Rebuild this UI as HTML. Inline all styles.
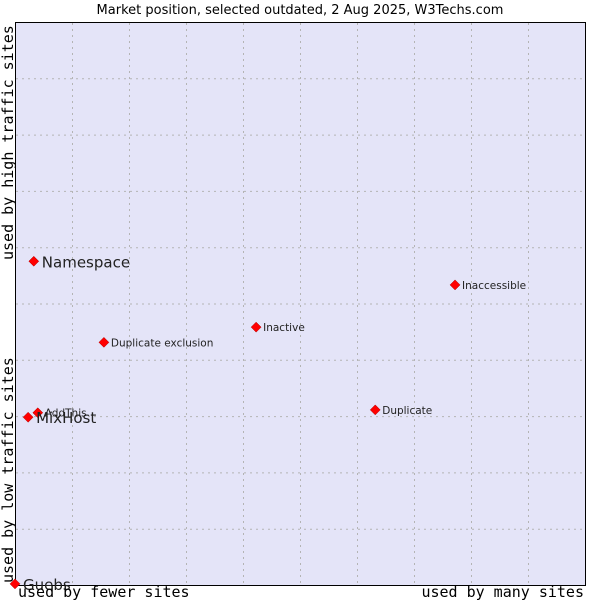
<!DOCTYPE html>
<html><head><meta charset="utf-8"><style>body{margin:0;background:#fff}svg{display:block}</style></head>
<body>
<svg id="c" width="600" height="600" xmlns="http://www.w3.org/2000/svg">
<text x="300" y="14" text-anchor="middle" font-family="DejaVu Sans, sans-serif" font-size="13">Market position, selected outdated, 2 Aug 2025, W3Techs.com</text>
<rect x="15.5" y="22.5" width="570" height="563" fill="#e4e4f8" stroke="#000"/>
<g id="grid"></g>
<g id="pts"></g>
<text x="18" y="597" font-family="DejaVu Sans Mono, monospace" font-size="15">used by fewer sites</text>
<text x="584" y="597" text-anchor="end" font-family="DejaVu Sans Mono, monospace" font-size="15">used by many sites</text>
<text transform="translate(13,583) rotate(-90)" font-family="DejaVu Sans Mono, monospace" font-size="15">used by low traffic sites</text>
<text transform="translate(13,260) rotate(-90)" font-family="DejaVu Sans Mono, monospace" font-size="15">used by high traffic sites</text>
</svg>
<script>
const names=["Namespace","Inaccessible","Inactive","Duplicate exclusion","AddThis","MixHost","Duplicate","Guebs"];
const xs=[3.3,77.2,42.3,15.6,4.0,2.3,63.2,0];
const ys=[57.5,53.3,45.8,43.1,30.6,29.8,31.1,0.2];
const big=[true,false,false,false,false,true,false,true];
const X=v=>15+v/100*570, Y=v=>585-v/100*563;
const NS="http://www.w3.org/2000/svg";
const grid=document.getElementById('grid'), pts=document.getElementById('pts');
for(let i=1;i<10;i++){
  const l=document.createElementNS(NS,'line');
  l.setAttribute('x1',X(i*10)+.5);l.setAttribute('x2',X(i*10)+.5);l.setAttribute('y1',23);l.setAttribute('y2',585);
  l.setAttribute('stroke','#b4b4b4');l.setAttribute('stroke-dasharray','2,4');
  
  
  grid.appendChild(l);
  const h=document.createElementNS(NS,'line');
  h.setAttribute('y1',Y(i*10)+.5);h.setAttribute('y2',Y(i*10)+.5);h.setAttribute('x1',16);h.setAttribute('x2',585);
  h.setAttribute('stroke','#b4b4b4');h.setAttribute('stroke-dasharray','2,4');
  
  
  grid.appendChild(h);
}
names.forEach((n,i)=>{
  const x=X(xs[i]),y=Y(ys[i]);
  const p=document.createElementNS(NS,'polygon');
  p.setAttribute('points',`${x},${y-5} ${x+5},${y} ${x},${y+5} ${x-5},${y}`);
  p.setAttribute('fill','#f00');p.setAttribute('stroke','#a00');p.setAttribute('stroke-width','0.5');
  
  
  pts.appendChild(p);
  const t=document.createElementNS(NS,'text');
  t.setAttribute('x',x+(big[i]?8:7));t.setAttribute('y',y+(big[i]?6:4));
  t.setAttribute('font-family','DejaVu Sans, sans-serif');t.setAttribute('font-size',big[i]?15:10.5);
  t.setAttribute('fill','#222');
  t.textContent=n;
  
  
  pts.appendChild(t);
});
</script>
</body></html>
